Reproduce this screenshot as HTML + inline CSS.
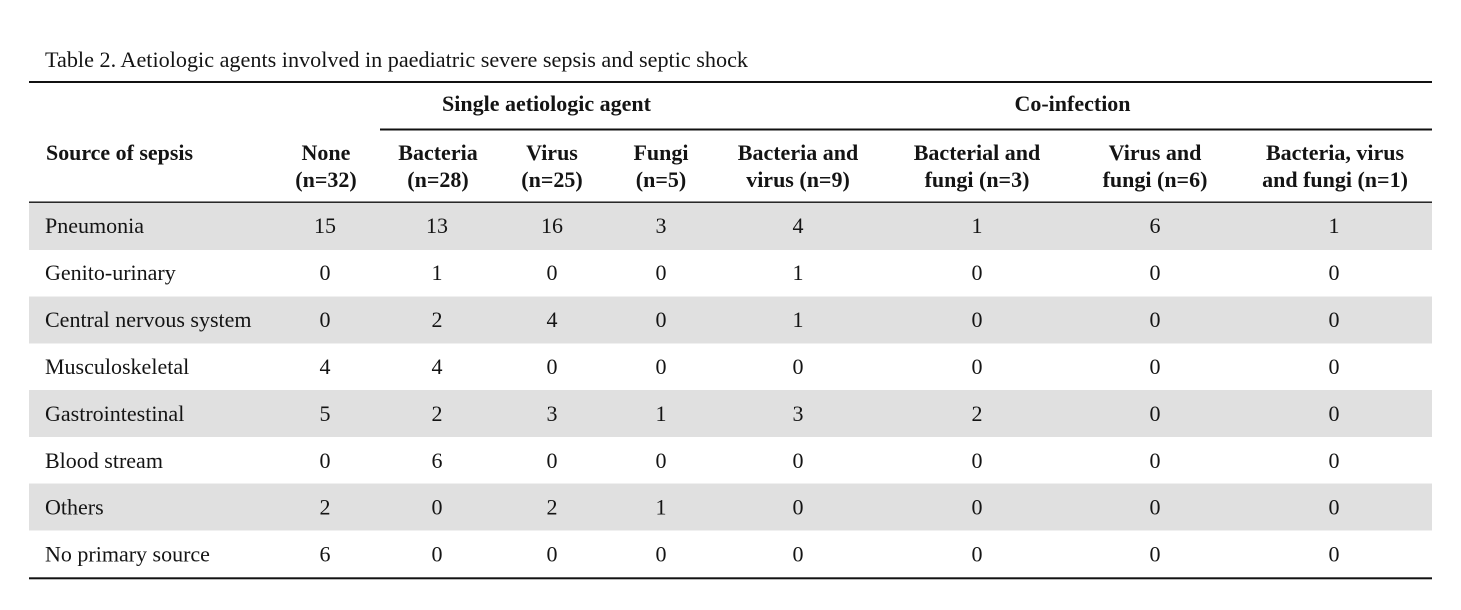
<!DOCTYPE html>
<html>
<head>
<meta charset="utf-8">
<style>
  html, body { margin: 0; padding: 0; background: #ffffff; }
  body { width: 1461px; height: 610px; overflow: hidden; }
  svg { display: block; }
  text { font-family: "Liberation Serif", "Times New Roman", serif; fill: #141414; }
  .b { font-weight: bold; font-size: 22px; }
  .r { font-size: 22px; }
</style>
</head>
<body>
<svg width="1461" height="610" viewBox="0 0 1461 610" xmlns="http://www.w3.org/2000/svg">
  <rect x="0" y="0" width="1461" height="610" fill="#ffffff"/>

  <!-- Title -->
  <text class="r" x="45" y="67" textLength="703" lengthAdjust="spacingAndGlyphs">Table 2. Aetiologic agents involved in paediatric severe sepsis and septic shock</text>

  <!-- Gray bands -->
  <rect x="29" y="203" width="1403" height="47" fill="#e0e0e0"/>
  <rect x="29" y="296.5" width="1403" height="47" fill="#e0e0e0"/>
  <rect x="29" y="390" width="1403" height="47" fill="#e0e0e0"/>
  <rect x="29" y="483.5" width="1403" height="47" fill="#e0e0e0"/>

  <!-- Rules -->
  <rect x="29" y="81" width="1403" height="2" fill="#111"/>
  <rect x="380" y="128.5" width="1052" height="2" fill="#111"/>
  <rect x="29" y="201.5" width="1403" height="1.4" fill="#111"/>
  <rect x="29" y="577.3" width="1403" height="2" fill="#111"/>

  <!-- Spanner headers -->
  <text class="b" x="546.5" y="111" text-anchor="middle">Single aetiologic agent</text>
  <text class="b" x="1072.5" y="111" text-anchor="middle">Co-infection</text>

  <!-- Column headers -->
  <text class="b" x="46" y="160" textLength="147" lengthAdjust="spacingAndGlyphs">Source of sepsis</text>

  <g class="b" text-anchor="middle">
    <text class="b" x="326" y="160">None</text>
    <text class="b" x="326" y="187">(n=32)</text>

    <text class="b" x="438" y="160">Bacteria</text>
    <text class="b" x="438" y="187">(n=28)</text>

    <text class="b" x="552" y="160">Virus</text>
    <text class="b" x="552" y="187">(n=25)</text>

    <text class="b" x="661" y="160">Fungi</text>
    <text class="b" x="661" y="187">(n=5)</text>

    <text class="b" x="798" y="160">Bacteria and</text>
    <text class="b" x="798" y="187">virus (n=9)</text>

    <text class="b" x="977" y="160">Bacterial and</text>
    <text class="b" x="977" y="187">fungi (n=3)</text>

    <text class="b" x="1155" y="160">Virus and</text>
    <text class="b" x="1155" y="187">fungi (n=6)</text>

    <text class="b" x="1335" y="160">Bacteria, virus</text>
    <text class="b" x="1335" y="187">and fungi (n=1)</text>
  </g>

  <!-- Row labels -->
  <g class="r">
    <text class="r" x="45" y="233">Pneumonia</text>
    <text class="r" x="45" y="280">Genito-urinary</text>
    <text class="r" x="45" y="327">Central nervous system</text>
    <text class="r" x="45" y="374">Musculoskeletal</text>
    <text class="r" x="45" y="421">Gastrointestinal</text>
    <text class="r" x="45" y="468">Blood stream</text>
    <text class="r" x="45" y="514.5">Others</text>
    <text class="r" x="45" y="561.5">No primary source</text>
  </g>

  <!-- Data -->
  <g text-anchor="middle">
    <!-- Pneumonia -->
    <text class="r" x="325" y="233">15</text>
    <text class="r" x="437" y="233">13</text>
    <text class="r" x="552" y="233">16</text>
    <text class="r" x="661" y="233">3</text>
    <text class="r" x="798" y="233">4</text>
    <text class="r" x="977" y="233">1</text>
    <text class="r" x="1155" y="233">6</text>
    <text class="r" x="1334" y="233">1</text>
    <!-- Genito-urinary -->
    <text class="r" x="325" y="280">0</text>
    <text class="r" x="437" y="280">1</text>
    <text class="r" x="552" y="280">0</text>
    <text class="r" x="661" y="280">0</text>
    <text class="r" x="798" y="280">1</text>
    <text class="r" x="977" y="280">0</text>
    <text class="r" x="1155" y="280">0</text>
    <text class="r" x="1334" y="280">0</text>
    <!-- CNS -->
    <text class="r" x="325" y="327">0</text>
    <text class="r" x="437" y="327">2</text>
    <text class="r" x="552" y="327">4</text>
    <text class="r" x="661" y="327">0</text>
    <text class="r" x="798" y="327">1</text>
    <text class="r" x="977" y="327">0</text>
    <text class="r" x="1155" y="327">0</text>
    <text class="r" x="1334" y="327">0</text>
    <!-- Musculoskeletal -->
    <text class="r" x="325" y="374">4</text>
    <text class="r" x="437" y="374">4</text>
    <text class="r" x="552" y="374">0</text>
    <text class="r" x="661" y="374">0</text>
    <text class="r" x="798" y="374">0</text>
    <text class="r" x="977" y="374">0</text>
    <text class="r" x="1155" y="374">0</text>
    <text class="r" x="1334" y="374">0</text>
    <!-- Gastrointestinal -->
    <text class="r" x="325" y="421">5</text>
    <text class="r" x="437" y="421">2</text>
    <text class="r" x="552" y="421">3</text>
    <text class="r" x="661" y="421">1</text>
    <text class="r" x="798" y="421">3</text>
    <text class="r" x="977" y="421">2</text>
    <text class="r" x="1155" y="421">0</text>
    <text class="r" x="1334" y="421">0</text>
    <!-- Blood stream -->
    <text class="r" x="325" y="468">0</text>
    <text class="r" x="437" y="468">6</text>
    <text class="r" x="552" y="468">0</text>
    <text class="r" x="661" y="468">0</text>
    <text class="r" x="798" y="468">0</text>
    <text class="r" x="977" y="468">0</text>
    <text class="r" x="1155" y="468">0</text>
    <text class="r" x="1334" y="468">0</text>
    <!-- Others -->
    <text class="r" x="325" y="514.5">2</text>
    <text class="r" x="437" y="514.5">0</text>
    <text class="r" x="552" y="514.5">2</text>
    <text class="r" x="661" y="514.5">1</text>
    <text class="r" x="798" y="514.5">0</text>
    <text class="r" x="977" y="514.5">0</text>
    <text class="r" x="1155" y="514.5">0</text>
    <text class="r" x="1334" y="514.5">0</text>
    <!-- No primary source -->
    <text class="r" x="325" y="561.5">6</text>
    <text class="r" x="437" y="561.5">0</text>
    <text class="r" x="552" y="561.5">0</text>
    <text class="r" x="661" y="561.5">0</text>
    <text class="r" x="798" y="561.5">0</text>
    <text class="r" x="977" y="561.5">0</text>
    <text class="r" x="1155" y="561.5">0</text>
    <text class="r" x="1334" y="561.5">0</text>
  </g>
</svg>
</body>
</html>
